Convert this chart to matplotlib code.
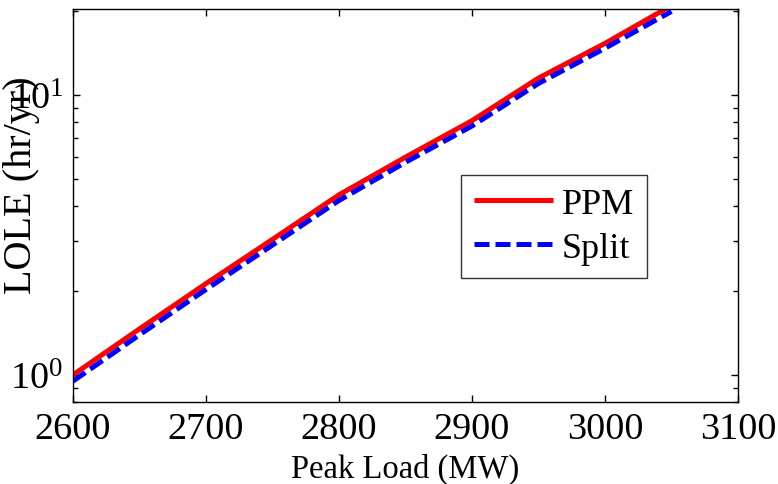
import math
import matplotlib
matplotlib.use("Agg")
import matplotlib.pyplot as plt
from matplotlib.ticker import FixedLocator, NullFormatter, FuncFormatter

plt.rcParams['font.family'] = ['Liberation Serif', 'DejaVu Serif']
plt.rcParams['mathtext.fontset'] = 'custom'
plt.rcParams['mathtext.rm'] = 'Liberation Serif'
plt.rcParams['mathtext.it'] = 'Liberation Serif:italic'
plt.rcParams['mathtext.bf'] = 'Liberation Serif:bold'

# Peak load (MW) and loss-of-load expectation (hr/yr)
peak_load = [2600, 2650, 2700, 2750, 2800, 2850, 2900, 2950, 3000, 3050]
lole_ppm = [1.00, 1.46, 2.12, 3.05, 4.40, 6.00, 8.10, 11.5, 15.3, 20.9]
lole_split = [0.95, 1.39, 2.02, 2.91, 4.20, 5.75, 7.75, 11.0, 14.7, 19.9]

x_ticks = [2600, 2700, 2800, 2900, 3000, 3100]
y_major = [1, 10]
y_minor = [0.8, 0.9, 2, 3, 4, 5, 6, 7, 8, 9, 20]

fig = plt.figure(figsize=(7.78, 4.85), dpi=100)
ax = fig.add_axes([73 / 778, 82 / 485, 665 / 778, 393 / 485])

ax.plot(peak_load, lole_ppm, color='#ff0000', lw=3.6, label='PPM',
        solid_capstyle='butt')
ax.plot(peak_load, lole_split, color='#0000ff', lw=3.6, ls=(0, (3.0, 1.2)),
        dash_capstyle='butt', label='Split')

ax.set_yscale('log')
ax.set_xlim(2600, 3100)
ax.set_ylim(0.8, 20.3)
ax.set_xticks(x_ticks)
ax.set_xticklabels([str(t) for t in x_ticks])
ax.yaxis.set_major_locator(FixedLocator(y_major))
ax.yaxis.set_major_formatter(FuncFormatter(
    lambda v, p: r'$10^{%d}$' % round(math.log10(v))))
ax.yaxis.set_minor_locator(FixedLocator(y_minor))
ax.yaxis.set_minor_formatter(NullFormatter())

ax.tick_params(which='both', direction='in', top=True, right=True,
               labelsize=27.5, width=1.0, color='black')
ax.tick_params(axis='x', which='major', length=5, pad=7)
ax.tick_params(axis='y', which='major', length=5, pad=7)
ax.tick_params(which='minor', length=3.5)
for s in ax.spines.values():
    s.set_linewidth(1.0)

ax.set_xlabel('Peak Load (MW)', fontsize=23.5)
ax.xaxis.set_label_coords(0.5, -0.13)
ax.xaxis.label.set_va('top')
ax.set_ylabel('LOLE (hr/yr)', fontsize=29)
ax.yaxis.set_label_coords(-0.05, 0.555)

leg = ax.legend(loc='upper left', bbox_to_anchor=((461 - 73) / 665, (403 - 176) / 393),
                fontsize=26, frameon=True, fancybox=False, edgecolor='black',
                handlelength=2.2, handletextpad=0.25, borderpad=0.35,
                labelspacing=0.3, borderaxespad=0)
leg.get_frame().set_linewidth(1.0)

fig.savefig('out.png', dpi=100)
